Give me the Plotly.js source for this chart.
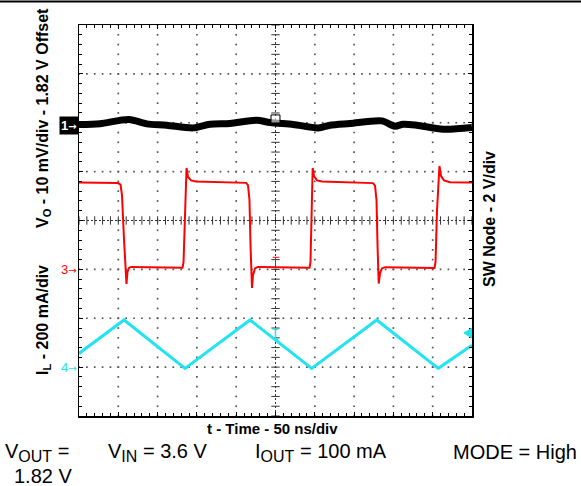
<!DOCTYPE html>
<html><head><meta charset="utf-8">
<script src="https://cdn.plot.ly/plotly-3.0.1.min.js"></script>
<style>html,body{margin:0;padding:0;background:#fff;} #chart{width:581px;height:486px;}</style>
</head><body><div id="chart"></div>
<script>
// ---- Data (read from the scope capture) ----
// Channel 3: SW node voltage (V), 2 V/div
const swTimeNs = [0, 26.7, 49.6, 52.8, 54.7, 57.3, 59.2, 60.4, 61.7, 63.6, 66.2, 103, 131.7, 133, 134.9, 136.8, 138.7, 142.5, 148.9, 179.4, 212.5, 215, 216.9, 218.2, 219.2, 220.1, 221.4, 223.9, 227.7, 255.7, 293.3, 294.5, 295.8, 297.3, 299, 302.8, 309.2, 344.8, 374.1, 376.6, 378.5, 379.8, 380.4, 381.3, 383, 385.5, 389.3, 421.1, 452.3, 453.6, 455.5, 458.6, 460.6, 464.4, 472, 500];
const swNodeV = [3.55, 3.54, 3.53, 3.47, 3.04, 1.20, 0.06, -0.60, -0.10, 0.06, 0.10, 0.08, 0.065, 0.30, 2.43, 4.15, 3.78, 3.64, 3.60, 3.56, 3.54, 3.45, 2.84, 1.00, 0.06, -0.76, -0.23, 0.04, 0.10, 0.08, 0.065, 0.30, 2.43, 4.15, 3.82, 3.64, 3.60, 3.56, 3.53, 3.43, 2.84, 1.00, 0.06, -0.58, -0.15, 0.04, 0.09, 0.08, 0.06, 0.30, 2.43, 4.23, 3.82, 3.64, 3.57, 3.55];
// Channel 4: inductor current (mA), 200 mA/div
const ilTimeNs = [0, 57.3, 134.9, 217.6, 296.1, 378.8, 457.1, 500];
const inductorCurrentMA = [56, 193, -5, 193, -5, 193, -5, 90];
// Channel 1: output voltage ripple (mV), 10 mV/div, 1.82 V offset
const voTimeNs = [0, 26.7, 63.6, 86.1, 111.6, 145.4, 166.6, 192.1, 226.1, 243, 272.6, 304.5, 319.3, 344.8, 385.1, 402, 412.6, 429.6, 463.5, 500];
const voutRippleMV = [0.14, 0.31, 1.17, 0.27, 0, -0.55, 0.20, 0.35, 1.02, 0.55, 0.14, -0.55, 0, 0.35, 0.88, -0.20, 0.20, 0, -0.82, -0.47];

// scope settings: scale per division and channel position (divisions from centre)
const VO_PER_DIV = 10, SW_PER_DIV = 2, IL_PER_DIV = 200;
const VO_POS = 1.95, SW_POS = -1, IL_POS = -3;
const NS_PER_DIV = 50, HDIV = 10, VDIV = 8;

// ---- layout helpers ----
const L = 79, T = 25, W = 393, H = 391;
const xp = px => (px - L) / W;
const yp = py => (T + H - py) / H;
const FONT = 'Liberation Sans, Arial, Helvetica, sans-serif';

// grid dots (1/5 division spacing)
const gx = [], gy = [];
for (let k = 1; k < HDIV; k++) { if (k === HDIV/2) continue; for (let j = 0; j <= VDIV*5; j++) { gx.push(k*NS_PER_DIV); gy.push(-VDIV/2 + j*0.2); } }
for (let k = -VDIV/2 + 1; k < VDIV/2; k++) { if (k === 0) continue; for (let i = 0; i <= HDIV*5; i++) { gx.push(i*NS_PER_DIV/5); gy.push(k); } }
const cvx = [], cvy = [], chx = [], chy = [];
for (let j = 0; j <= VDIV*5; j++) { cvx.push(HDIV*NS_PER_DIV/2); cvy.push(-VDIV/2 + j*0.2); }
for (let i = 0; i <= HDIV*5; i++) { chx.push(i*NS_PER_DIV/5); chy.push(0); }

const traces = [
  {x: gx, y: gy, mode: 'markers', type: 'scatter', hoverinfo: 'skip',
   marker: {symbol: 'square', size: 1.7, color: '#555'}},
  {x: cvx, y: cvy, mode: 'markers', type: 'scatter', hoverinfo: 'skip',
   marker: {symbol: 'line-ew', size: 6, line: {width: 1, color: '#333'}}},
  {x: chx, y: chy, mode: 'markers', type: 'scatter', hoverinfo: 'skip',
   marker: {symbol: 'line-ns', size: 6, line: {width: 1, color: '#333'}}},
  {x: ilTimeNs, y: inductorCurrentMA.map(v => IL_POS + v / IL_PER_DIV), mode: 'lines', type: 'scatter',
   line: {color: '#22e3f0', width: 3}},
  {x: swTimeNs, y: swNodeV.map(v => SW_POS + v / SW_PER_DIV), mode: 'lines', type: 'scatter',
   line: {color: '#ff0000', width: 2}},
  {x: voTimeNs, y: voutRippleMV.map(v => VO_POS + v / VO_PER_DIV), mode: 'lines', type: 'scatter',
   line: {color: '#000000', width: 7, shape: 'spline', smoothing: 0.8}}
];

const tc = HDIV*NS_PER_DIV/2;
const shapes = [
  {type: 'line', xref: 'paper', yref: 'paper', x0: xp(0), x1: xp(581), y0: yp(1.5), y1: yp(1.5), line: {color: '#000', width: 2}},
  {type: 'line', xref: 'x', yref: 'y', x0: tc, x1: tc, y0: -VDIV/2, y1: VDIV/2, line: {color: '#333', width: 1, dash: '2px,2px'}, layer: 'below'},
  {type: 'line', xref: 'x', yref: 'y', x0: 0, x1: HDIV*NS_PER_DIV, y0: 0, y1: 0, line: {color: '#333', width: 1, dash: '2px,2px'}, layer: 'below'},
  // trigger position marker
  {type: 'rect', xref: 'x', yref: 'y', x0: 244.3, x1: 255.7, y0: 1.995, y1: 2.16, line: {color: '#000', width: 1}, fillcolor: 'rgba(255,255,255,0.6)'},
  // red channel-3 marker on centre line
  {type: 'line', xref: 'x', yref: 'y', x0: 246.4, x1: 254.8, y0: -0.753, y1: -0.753, line: {color: '#ff0000', width: 1}},
  {type: 'line', xref: 'x', yref: 'y', x0: 250, x1: 250, y0: -0.753, y1: -0.945, line: {color: '#ff0000', width: 1}},
  // cyan marker on centre line
  {type: 'line', xref: 'x', yref: 'y', x0: 250, x1: 250, y0: -2.226, y1: -2.431, line: {color: '#22e3f0', width: 1.5}},
  {type: 'line', xref: 'x', yref: 'y', x0: 246.5, x1: 253.5, y0: -2.226, y1: -2.226, line: {color: '#22e3f0', width: 1.5}},
  {type: 'line', xref: 'x', yref: 'y', x0: 246.5, x1: 253.5, y0: -2.431, y1: -2.431, line: {color: '#22e3f0', width: 1.5}},
  // cyan trigger-level arrow on right edge
  {type: 'path', xref: 'x', yref: 'y', path: 'M 489.7,-2.302 L 500,-2.20 L 500,-2.405 Z', fillcolor: '#22e3f0', line: {color: '#22e3f0', width: 1}}
];

const boldV = {family: FONT, size: 16, color: '#000', weight: 700};
const boldX = {family: FONT, size: 15, color: '#000', weight: 700};
const big = {family: FONT, size: 20, color: '#000'};
const arrow = '<span style="font-family:DejaVu Sans;font-size:10px">→</span>';
const annotations = [
  {xref: 'paper', yref: 'paper', x: xp(43), y: yp(118), text: 'V<sub>O</sub> - 10 mV/div - 1.82 V Offset', textangle: -90, showarrow: false, font: boldV, xanchor: 'center', yanchor: 'middle'},
  {xref: 'paper', yref: 'paper', x: xp(43), y: yp(320), text: 'I<sub>L</sub> - 200 mA/div', textangle: -90, showarrow: false, font: boldV, xanchor: 'center', yanchor: 'middle'},
  {xref: 'paper', yref: 'paper', x: xp(489), y: yp(219), text: 'SW Node - 2 V/div', textangle: -90, showarrow: false, font: boldV, xanchor: 'center', yanchor: 'middle'},
  {xref: 'paper', yref: 'paper', x: xp(272), y: yp(428), text: 't - Time - 50 ns/div', showarrow: false, font: boldX, xanchor: 'center', yanchor: 'middle'},
  {xref: 'paper', yref: 'paper', x: xp(3), y: yp(452), text: 'V<sub><span style="font-size:16px">OUT</span></sub> =', showarrow: false, font: big, xanchor: 'left', yanchor: 'middle'},
  {xref: 'paper', yref: 'paper', x: xp(12), y: yp(476), text: '1.82 V', showarrow: false, font: big, xanchor: 'left', yanchor: 'middle'},
  {xref: 'paper', yref: 'paper', x: xp(106), y: yp(452), text: 'V<sub><span style="font-size:16px">IN</span></sub> = 3.6 V', showarrow: false, font: big, xanchor: 'left', yanchor: 'middle'},
  {xref: 'paper', yref: 'paper', x: xp(253), y: yp(452), text: 'I<sub><span style="font-size:16px">OUT</span></sub> = 100 mA', showarrow: false, font: big, xanchor: 'left', yanchor: 'middle'},
  {xref: 'paper', yref: 'paper', x: xp(579), y: yp(452), text: 'MODE = High', showarrow: false, font: big, xanchor: 'right', yanchor: 'middle'},
  // channel markers
  {xref: 'paper', yref: 'y', x: xp(78.5), y: VO_POS, text: '1' + arrow, showarrow: false, xanchor: 'right', yanchor: 'middle', bgcolor: '#000', borderpad: 1, font: {family: FONT, size: 13, color: '#fff', weight: 700}},
  {xref: 'paper', yref: 'y', x: xp(78.5), y: SW_POS, text: '3' + arrow, showarrow: false, xanchor: 'right', yanchor: 'middle', font: {family: FONT, size: 13, color: '#ff0000'}},
  {xref: 'paper', yref: 'y', x: xp(78.5), y: IL_POS, text: '4' + arrow, showarrow: false, xanchor: 'right', yanchor: 'middle', font: {family: FONT, size: 13, color: '#22e3f0'}}
];

const axisCommon = {showgrid: false, zeroline: false, showticklabels: false, ticks: 'inside', ticklen: 4, tickcolor: '#000', tickwidth: 1,
  showline: true, linecolor: '#000', linewidth: 1.5, mirror: 'ticks', fixedrange: true};

const layout = {
  width: 581, height: 486,
  margin: {l: L, r: 581 - L - W, t: T, b: 486 - T - H, pad: 0},
  paper_bgcolor: '#fff', plot_bgcolor: '#fff',
  showlegend: false,
  font: {family: FONT, color: '#000'},
  xaxis: Object.assign({}, axisCommon, {range: [0, HDIV*NS_PER_DIV], tick0: 0, dtick: NS_PER_DIV,
    minor: {dtick: NS_PER_DIV/5, ticks: 'inside', ticklen: 3, tickcolor: '#000', showgrid: false}}),
  yaxis: Object.assign({}, axisCommon, {range: [-VDIV/2, VDIV/2], tick0: -VDIV/2, dtick: 1,
    minor: {dtick: 0.2, ticks: 'inside', ticklen: 3, tickcolor: '#000', showgrid: false}}),
  shapes: shapes,
  annotations: annotations
};

Plotly.newPlot('chart', traces, layout, {displayModeBar: false, staticPlot: true});
</script>
</body></html>
